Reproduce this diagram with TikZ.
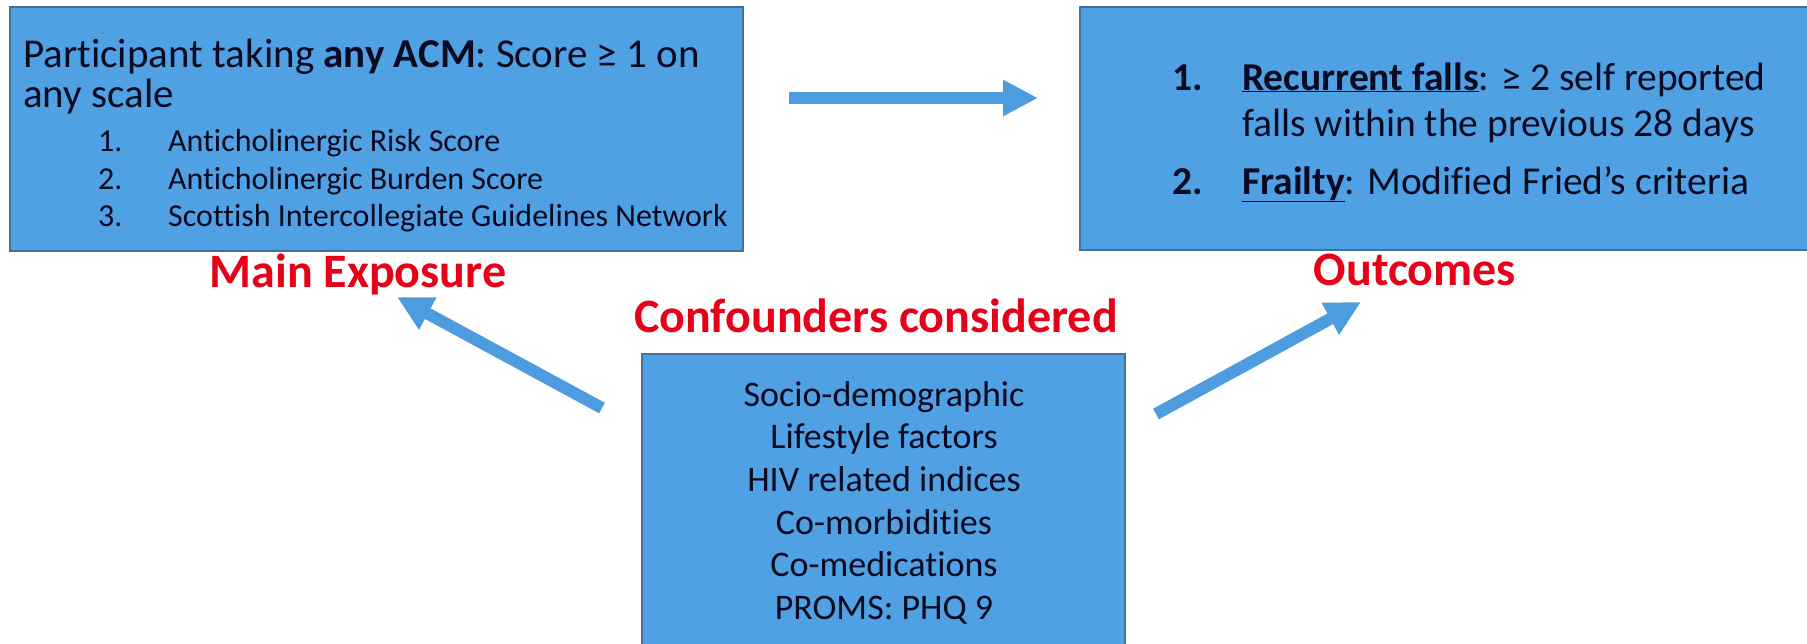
\documentclass[tikz,border=0pt]{standalone}
\usepackage{fontspec}
\setmainfont{Carlito}[Ligatures=NoCommon]
\usetikzlibrary{arrows.meta}
\definecolor{boxfill}{RGB}{80,160,228}
\definecolor{boxline}{RGB}{65,113,156}
\definecolor{arrowblue}{RGB}{78,156,224}
\definecolor{labred}{RGB}{230,0,24}
\definecolor{txt}{RGB}{10,10,32}
\tikzset{
  panel/.style={draw=boxline, line width=1.2pt, fill=boxfill},
  body/.style={inner sep=0pt, anchor=base west, text=txt},
  bodyc/.style={inner sep=0pt, anchor=base, text=txt, font=\fontsize{36}{42}\selectfont},
  redlab/.style={inner sep=0pt, anchor=base, text=labred, font=\fontsize{48}{56}\selectfont\bfseries},
  blockarrow/.style={draw=arrowblue, line width=12pt, -{Triangle[length=35pt, width=34pt]}},
}
\begin{document}
\begin{tikzpicture}[x=1pt, y=-1pt]
\useasboundingbox (0,0) rectangle (1807,643);
% boxes
\path[panel] (10,7) rectangle (743,251);
\path[panel] (1080,7) rectangle (1812,250);
\path[panel] (642,354) rectangle (1125,650);
% left box text
\node[body, font=\fontsize{41}{48}\selectfont] (l1) at (23,67) {Participant taking \textbf{any ACM}: Score ≥ 1 on};
\node[body, font=\fontsize{41}{48}\selectfont] (l2) at (23,107) {any scale};
\node[body, font=\fontsize{32}{38}\selectfont] (n1) at (98,151) {1.};
\node[body, font=\fontsize{32}{38}\selectfont] (i1) at (168,151) {Anticholinergic Risk Score};
\node[body, font=\fontsize{32}{38}\selectfont] (n2) at (98,189) {2.};
\node[body, font=\fontsize{32}{38}\selectfont] (i2) at (168,189) {Anticholinergic Burden Score};
\node[body, font=\fontsize{32}{38}\selectfont] (n3) at (98,226) {3.};
\node[body, font=\fontsize{32}{38}\selectfont] (i3) at (168,226) {Scottish Intercollegiate Guidelines Network};
% right box text
\node[body, font=\fontsize{39.5}{46}\selectfont\bfseries] (r1n) at (1172,90) {1.};
\node[body, font=\fontsize{39.5}{46}\selectfont] (r1) at (1242,90) {\textbf{\underline{Recurrent falls}}: ≥ 2 self reported};
\node[body, font=\fontsize{39.5}{46}\selectfont] (r1b) at (1242,136) {falls within the previous 28 days};
\node[body, font=\fontsize{39.5}{46}\selectfont\bfseries] (r2n) at (1172,194) {2.};
\node[body, font=\fontsize{39.5}{46}\selectfont] (r2) at (1242,194) {\textbf{\underline{Frailty}}: Modified Fried’s criteria};
% bottom box text
\node[bodyc] (c1) at (884,406) {Socio-demographic};
\node[bodyc] (c2) at (884,448) {Lifestyle factors};
\node[bodyc] (c3) at (884,491) {HIV related indices};
\node[bodyc] (c4) at (884,534) {Co-morbidities};
\node[bodyc] (c5) at (884,576) {Co-medications};
\node[bodyc] (c6) at (884,619) {PROMS: PHQ 9};
% red labels
\node[redlab] (main) at (358,287) {Main Exposure};
\node[redlab] (conf) at (876,332) {Confounders considered};
\node[redlab] (out) at (1415,285) {Outcomes};
% arrow ends
\coordinate (h0) at (789,98);
\coordinate (h1) at (1038,98);
\coordinate (a0) at (602,408);
\coordinate (a1) at (397,297);
\coordinate (b0) at (1156,414);
\coordinate (b1) at (1361,302);
\draw[blockarrow] (h0) -- (h1);
\draw[blockarrow] (a0) -- (a1);
\draw[blockarrow] (b0) -- (b1);
\end{tikzpicture}
\end{document}
